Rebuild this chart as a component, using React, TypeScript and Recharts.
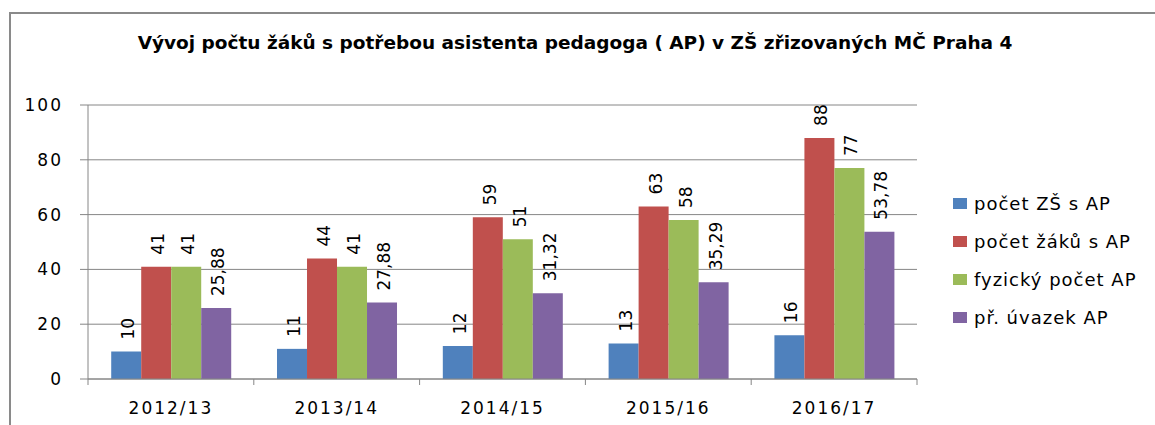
import { BarChart, Bar, XAxis, YAxis, CartesianGrid, LabelList } from 'recharts'

const years = ['2012/13', '2013/14', '2014/15', '2015/16', '2016/17']
const pocetZS = [10, 11, 12, 13, 16]
const pocetZaku = [41, 44, 59, 63, 88]
const fyzickyPocet = [41, 41, 51, 58, 77]
const uvazek = [25.88, 27.88, 31.32, 35.29, 53.78]
const yTicks = [0, 20, 40, 60, 80, 100]

const series = [
  { key: 'zs', name: 'počet ZŠ s AP', color: '#4F81BD' },
  { key: 'zaci', name: 'počet žáků s AP', color: '#C0504D' },
  { key: 'fyz', name: 'fyzický počet AP', color: '#9BBB59' },
  { key: 'uv', name: 'př. úvazek AP', color: '#8064A2' },
]

const data = years.map((y, i) => ({
  year: y,
  zs: pocetZS[i],
  zaci: pocetZaku[i],
  fyz: fyzickyPocet[i],
  uv: uvazek[i],
}))

const FONT = '"DejaVu Sans", sans-serif'
const GRID = '#868686'

const fmt = (v: number) => String(v).replace('.', ',')

// rotated label above each bar
const BarLabel = (props: any) => {
  const { x, y, width, value } = props
  const cx = x + width / 2 + 2
  const ty = y - 12
  return (
    <text
      x={cx}
      y={ty}
      transform={`rotate(-90 ${cx} ${ty})`}
      textAnchor="start"
      dominantBaseline="central"
      fontFamily={FONT}
      fontSize={17}
      fill="#000"
    >
      {fmt(value)}
    </text>
  )
}

// category tick: label plus boundary tick marks
const YearTick = (props: any) => {
  const { x, y, payload, index } = props
  const off = payload.offset || 0
  const axisY = y - 8
  return (
    <g>
      {index === 0 && <line x1={x - off} x2={x - off} y1={axisY} y2={axisY + 6} stroke={GRID} />}
      <line x1={x + off} x2={x + off} y1={axisY} y2={axisY + 6} stroke={GRID} />
      <text
        x={x}
        y={y + 21}
        textAnchor="middle"
        dominantBaseline="central"
        fontFamily={FONT}
        fontSize={17}
        letterSpacing={2}
        fill="#000"
      >
        {payload.value}
      </text>
    </g>
  )
}

export default function App() {
  return (
    <div style={{ position: 'fixed', left: 0, top: 0, width: 1155, height: 425, background: '#fff' }}>
      {/* frame: top and left edge only */}
      <div style={{ position: 'absolute', left: 9, top: 12, width: 1146, height: 2, background: '#8a8a8a' }} />
      <div style={{ position: 'absolute', left: 9, top: 12, width: 2, height: 413, background: '#8a8a8a' }} />
      <div
        style={{
          position: 'absolute',
          left: 8,
          top: 31,
          width: 1134,
          textAlign: 'center',
          fontFamily: FONT,
          fontWeight: 'bold',
          fontSize: 18.5,
          lineHeight: '24px',
          color: '#000',
        }}
      >
        Vývoj počtu žáků s potřebou asistenta pedagoga ( AP) v ZŠ zřizovaných MČ Praha 4
      </div>
      <div style={{ position: 'absolute', left: 8, top: 8 }}>
        <BarChart
          width={1147}
          height={417}
          data={data}
          margin={{ top: 97, right: 238, bottom: 6, left: 20 }}
          barCategoryGap="14%"
          barGap={0}
        >
          <CartesianGrid vertical={false} stroke={GRID} />
          <XAxis
            dataKey="year"
            height={40}
            axisLine={{ stroke: GRID }}
            tickLine={false}
            tick={<YearTick />}
            interval={0}
          />
          <YAxis
            width={60}
            domain={[0, 100]}
            ticks={yTicks}
            axisLine={{ stroke: GRID }}
            tickLine={{ stroke: GRID }}
            tickSize={8}
            tickMargin={17}
            tick={{ fontFamily: FONT, fontSize: 17, fill: '#000', letterSpacing: 2 }}
          />
          {series.map((s) => (
            <Bar key={s.key} dataKey={s.key} name={s.name} fill={s.color} isAnimationActive={false}>
              <LabelList dataKey={s.key} content={<BarLabel />} />
            </Bar>
          ))}
        </BarChart>
      </div>
      <div style={{ position: 'absolute', left: 953, top: 8 }}>
        {series.map((s, i) => (
          <div
            key={s.key}
            style={{
              position: 'absolute',
              left: 0,
              top: 184 + i * 38,
              height: 22,
              display: 'flex',
              alignItems: 'center',
              whiteSpace: 'nowrap',
              fontFamily: FONT,
              fontSize: 18,
              letterSpacing: 1,
              color: '#000',
            }}
          >
            <span style={{ display: 'inline-block', width: 14, height: 11, background: s.color, marginRight: 7 }} />
            {s.name}
          </div>
        ))}
      </div>
    </div>
  )
}
